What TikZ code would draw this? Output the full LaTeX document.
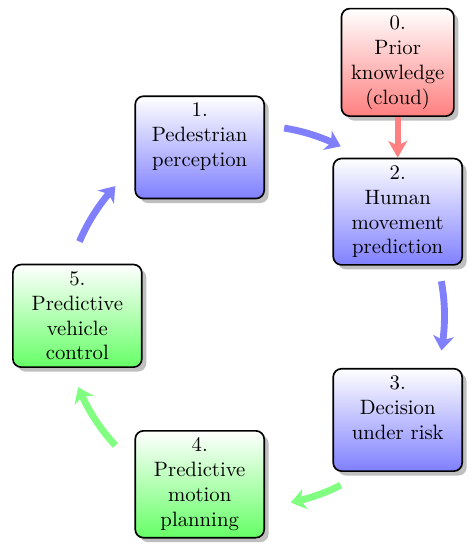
\documentclass[tikz,border=0pt]{standalone}
\usetikzlibrary{positioning, shadows, arrows.meta, bending}

\begin{document}
\begin{tikzpicture}[
    stage/.style={
        draw,
        thick,
        rounded corners,
        align=center,
        text width=1.95cm,
        drop shadow},
    short stage/.style={text depth=36pt},
    bluestage/.style={stage, top color=white, bottom color=blue!50},
    greenstage/.style={stage, top color=white, bottom color=green!60},
    redstage/.style={stage, top color=white, bottom color=red!50},
    cycle arrow/.style={
        line width=3.3pt,
        -{Stealth[length=7pt, width=10pt, inset=2pt, bend]}}]

    \useasboundingbox (-4.31,-3.95) rectangle (3.72,5.35);

    \node[bluestage, short stage] (percep) at (108:3) {1.\\ Pedestrian\\ perception};
    \node[bluestage] (pred) at (36:3) {2.\\ Human\\ movement\\ prediction};
    \node[bluestage, short stage] (decis) at (-36:3) {3.\\ Decision\\ under risk};
    \node[greenstage] (plan) at (-108:3) {4.\\ Predictive\\ motion\\ planning};
    \node[greenstage] (ctrl) at (180:3) {5.\\ Predictive\\ vehicle\\ control};

    \node[redstage, text width=1.67cm, above=0.69cm of pred] (prior)
        {0.\\ Prior\\ knowledge\\ (cloud)};

    \draw[line width=2.9pt, red!50, -{Stealth[length=8pt, width=9pt, inset=2pt]}]
        (prior) -- (pred);

    % arcs between the stages
    \foreach \s/\e/\c [count=\i] in {157/137/blue, 81/63/blue, 10.5/-10.5/blue,
                                     -63/-79/green, -137/-158/green} {
        \coordinate (arc\i) at (\s:3.22);
        \draw[cycle arrow, \c!50] (arc\i) arc[start angle=\s, end angle=\e, radius=3.22];
    }
\end{tikzpicture}
\end{document}
